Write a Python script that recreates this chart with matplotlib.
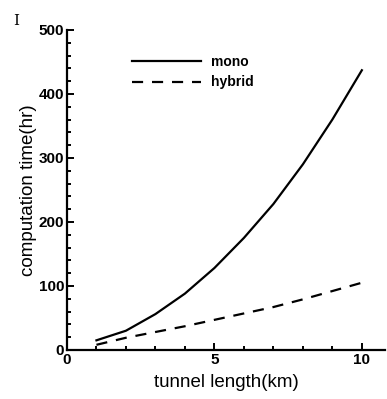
import numpy as np
import matplotlib
matplotlib.use('Agg')
import matplotlib.pyplot as plt
from matplotlib.ticker import MultipleLocator

# data
length_km = [1, 2, 3, 4, 5, 6, 7, 8, 9, 10]
mono_hr = [15, 30, 56, 88, 128, 175, 228, 290, 360, 437]
hybrid_hr = [8, 19, 28, 37, 47, 57, 67, 79, 92, 105]

plt.rcParams['font.family'] = ['Liberation Sans', 'DejaVu Sans']

fig = plt.figure(figsize=(3.87, 3.99), dpi=100)
ax = fig.add_axes([0.173, 0.123, 0.823, 0.802])

ax.plot(length_km, mono_hr, linestyle='-', color='black', lw=1.6, label='mono')
ax.plot(length_km, hybrid_hr, linestyle=(0, (5, 4)), color='black', lw=1.6, label='hybrid')

ax.set_xlim(0, 10.8)
ax.set_ylim(0, 500)
ax.spines['top'].set_visible(False)
ax.spines['right'].set_visible(False)
ax.spines['left'].set_linewidth(1.6)
ax.spines['bottom'].set_linewidth(1.6)

ax.xaxis.set_major_locator(MultipleLocator(5))
ax.xaxis.set_minor_locator(MultipleLocator(1))
ax.yaxis.set_major_locator(MultipleLocator(100))
ax.yaxis.set_minor_locator(MultipleLocator(20))
ax.tick_params(which='both', direction='in', width=1.4, pad=2)
ax.tick_params(which='major', length=5, labelsize=11)
ax.tick_params(which='minor', length=3)
for lab in ax.get_xticklabels() + ax.get_yticklabels():
    lab.set_fontweight('bold')

ax.set_xlabel('tunnel length(km)', fontsize=13.5, labelpad=5)
ax.set_ylabel('computation time(hr)', fontsize=13.5, labelpad=1)

leg = ax.legend(loc='upper left', bbox_to_anchor=(0.165, 0.96), frameon=False,
                handlelength=5.0, handletextpad=0.7, labelspacing=0.45,
                prop={'weight': 'bold', 'size': 10})

fig.text(0.035, 0.965, 'I', fontsize=11, family='DejaVu Serif', va='top')

plt.savefig('out.png', dpi=100)
